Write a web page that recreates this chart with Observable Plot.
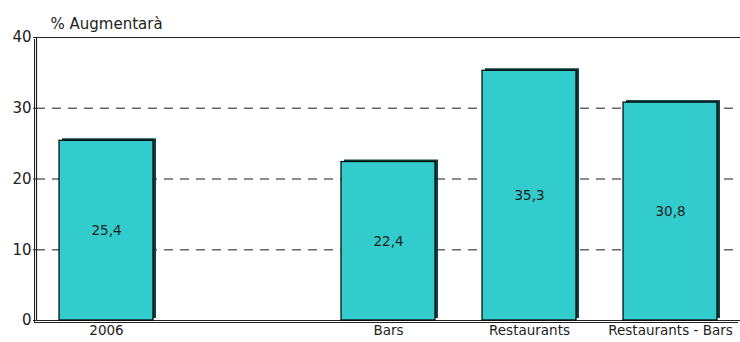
<!DOCTYPE html>
<html>
<head>
<meta charset="utf-8">
<script src="https://cdn.jsdelivr.net/npm/d3@7"></script>
<script src="https://cdn.jsdelivr.net/npm/@observablehq/plot@0.6"></script>
<style>
  html, body { margin: 0; padding: 0; background: #fff; }
  #chart svg { display: block; }
</style>
</head>
<body>
<div id="chart"></div>
<script>
const categories = ["2006", " ", "Bars", "Restaurants", "Restaurants - Bars"];
const values = [25.4, null, 22.4, 35.3, 30.8];
const yTicks = [0, 10, 20, 30, 40];
const gridTicks = [10, 20, 30];
const title = "% Augmentarà";

const data = categories.map((c, i) => ({cat: c, v: values[i]})).filter(d => d.v != null);
const fmt = v => v.toFixed(1).replace(".", ",");

const font = "DejaVu Sans, Verdana, sans-serif";

const chart = Plot.plot({
  width: 740,
  height: 342,
  marginLeft: 36,
  marginRight: 0,
  marginTop: 37,
  marginBottom: 22,
  style: {fontFamily: font, fontSize: "13.5px", color: "#222", background: "#fff"},
  x: {domain: categories, range: [34, 743], paddingInner: 0.33, paddingOuter: 0.165, label: null, tickSize: 0, tickPadding: 5},
  y: {domain: [0, 40], ticks: yTicks, label: null, tickSize: 3, tickPadding: 2},
  marks: [
    Plot.ruleY(gridTicks, {y: d => d, stroke: "#666", strokeDasharray: "9,7", strokeWidth: 1.3}),
    Plot.ruleY([40], {stroke: "#222", strokeWidth: 1}),
    Plot.ruleY([0], {stroke: "#222", strokeWidth: 1.2}),
    Plot.ruleY([0], {stroke: "#222", strokeWidth: 1, dy: 2, dx: -2}),
    Plot.frame({anchor: "left", stroke: "#222", strokeWidth: 1.2}),
    Plot.frame({anchor: "left", stroke: "#222", strokeWidth: 1, dx: -2, dy: 2}),
    Plot.barY(data, {x: "cat", y: "v", fill: "#0f3f3f", dx: 3, dy: -2}),
    Plot.barY(data, {x: "cat", y: "v", fill: "#33CCCC", stroke: "#000", strokeWidth: 1.2}),
    Plot.text(data, {x: "cat", y: d => d.v / 2, text: d => fmt(d.v), fill: "#222", fontSize: 13.5}),
    Plot.text([title], {frameAnchor: "top-left", dx: 14, dy: -19, fontSize: 15, fill: "#222", textAnchor: "start"}),
    Plot.axisY({ticks: yTicks, tickSize: 3, tickPadding: 2, fontSize: 15})
  ]
});
document.getElementById("chart").appendChild(chart);
</script>
</body>
</html>
